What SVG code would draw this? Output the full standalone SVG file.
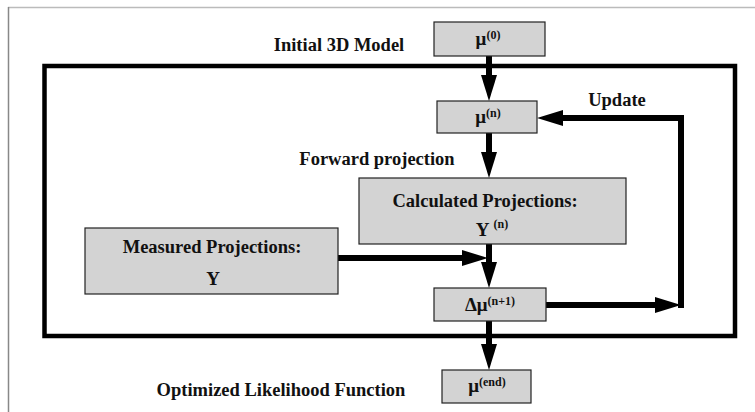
<svg xmlns="http://www.w3.org/2000/svg" width="755" height="412" viewBox="0 0 755 412">
<style>
.box{fill:#d3d3d3;stroke:#222;stroke-width:1.2}
.t{font-family:"Liberation Serif","Times New Roman",serif;font-weight:bold;font-size:18.5px;fill:#111}
.m{font-family:"Liberation Serif","Times New Roman",serif;font-weight:bold;font-size:19px;fill:#111}
.sup{font-size:12px}
.c{fill:none;stroke:#000;stroke-width:6;stroke-linejoin:miter}
</style>
<defs>
<marker id="ah" viewBox="0 0 26 16" markerWidth="26" markerHeight="16" refX="2" refY="8" orient="auto" markerUnits="userSpaceOnUse">
<path d="M0,0 L26,8 L0,16 z" fill="#000"/>
</marker>
</defs>
<rect width="755" height="412" fill="#fff"/>
<g id="frame">
<line x1="8" y1="7.5" x2="755" y2="7.5" stroke="#bbb" stroke-width="1.5"/>
<line x1="8.5" y1="7" x2="8.5" y2="412" stroke="#888" stroke-width="1.5"/>
<rect x="44.5" y="66" width="690.5" height="270" fill="none" stroke="#000" stroke-width="4.5"/>
</g>
<g id="labels">
<text class="t" x="339" y="51" text-anchor="middle">Initial 3D Model</text>
<text class="t" x="617" y="106" text-anchor="middle">Update</text>
<text class="t" x="377" y="165" text-anchor="middle">Forward projection</text>
<text class="t" x="281" y="396" text-anchor="middle">Optimized Likelihood Function</text>
</g>
<g id="connectors">
<path class="c" d="M489,56 V77" marker-end="url(#ah)"/>
<path class="c" d="M489,133 V154" marker-end="url(#ah)"/>
<path class="c" d="M489,244 V264" marker-end="url(#ah)"/>
<path class="c" d="M338,258 H464" marker-end="url(#ah)"/>
<path class="c" d="M546,305 H657" marker-end="url(#ah)"/>
<path class="c" d="M681,308 V118 H561" marker-end="url(#ah)"/>
<path class="c" d="M489,321 V346" marker-end="url(#ah)"/>
</g>
<g id="mu0">
<rect class="box" x="434" y="22" width="111" height="34"/>
<text class="m" x="488" y="45" text-anchor="middle">μ<tspan class="sup" dy="-6">(0)</tspan></text>
</g>
<g id="mun">
<rect class="box" x="437" y="101" width="100" height="32"/>
<text class="m" x="488" y="123" text-anchor="middle">μ<tspan class="sup" dy="-6">(n)</tspan></text>
</g>
<g id="calc">
<rect class="box" x="359" y="178" width="267" height="66"/>
<text class="t" x="485" y="207" text-anchor="middle">Calculated Projections:</text>
<text class="m" x="492" y="236" text-anchor="middle">Y <tspan class="sup" dy="-8">(n)</tspan></text>
</g>
<g id="measured">
<rect class="box" x="85" y="228" width="253" height="66"/>
<text class="t" x="212" y="253" text-anchor="middle">Measured Projections:</text>
<text class="m" x="213" y="285" text-anchor="middle">Y</text>
</g>
<g id="dmu">
<rect class="box" x="434" y="288" width="112" height="33"/>
<text class="m" x="490" y="311" text-anchor="middle">Δμ<tspan class="sup" dy="-6">(n+1)</tspan></text>
</g>
<g id="muend">
<rect class="box" x="442" y="370" width="89" height="33"/>
<text class="m" x="487" y="392" text-anchor="middle">μ<tspan class="sup" dy="-6">(end)</tspan></text>
</g>
</svg>
